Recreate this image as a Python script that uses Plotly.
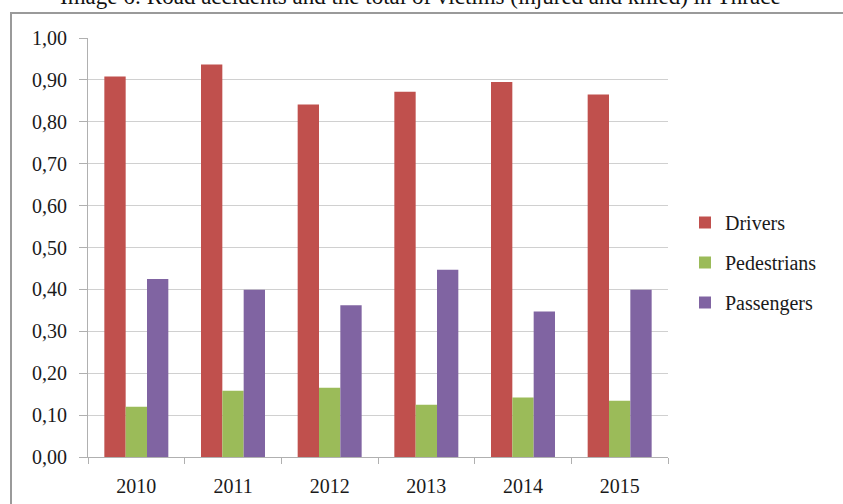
import plotly.graph_objects as go

years = ["2010", "2011", "2012", "2013", "2014", "2015"]
drivers = [0.908, 0.937, 0.841, 0.872, 0.895, 0.865]
pedestrians = [0.120, 0.158, 0.165, 0.125, 0.142, 0.134]
passengers = [0.425, 0.399, 0.362, 0.447, 0.347, 0.399]

series = [
    ("Drivers", drivers, "#C0504D"),
    ("Pedestrians", pedestrians, "#9BBB59"),
    ("Passengers", passengers, "#8064A2"),
]

FONT = "Liberation Serif, Times New Roman, serif"
TXT = "#1a1a1a"
W, H = 843, 504
L, R, T, B = 88, 175, 38, 47
PW, PH = W - L - R, H - T - B


def px_x(px):
    return (px - L) / PW


def px_y(py):
    return (H - B - py) / PH


fig = go.Figure()
for i, (name, vals, color) in enumerate(series):
    fig.add_trace(go.Bar(
        x=years, y=vals, name=name,
        marker=dict(color=color, line=dict(width=0)),
        legendgroup=f"g{i}",
    ))

fig.update_layout(
    width=W, height=H,
    margin=dict(l=L, r=R, t=T, b=B, pad=0, autoexpand=False),
    paper_bgcolor="white", plot_bgcolor="white",
    barmode="group", bargap=0.338, bargroupgap=0,
    font=dict(family=FONT, size=20, color=TXT),
    showlegend=True,
    legend=dict(
        x=px_x(685), y=px_y(203), xanchor="left", yanchor="top",
        traceorder="grouped", tracegroupgap=11,
        font=dict(family=FONT, size=20, color=TXT),
        bgcolor="rgba(0,0,0,0)",
    ),
    xaxis=dict(
        type="category", showline=True, linecolor="#b0b0b0", linewidth=1,
        ticks="outside", tickson="boundaries", ticklen=6, tickcolor="#b0b0b0",
        showgrid=False, ticklabelstandoff=11, automargin=False,
        tickfont=dict(family=FONT, size=20, color=TXT),
    ),
    yaxis=dict(
        range=[0, 1.0], dtick=0.1, tickformat=".2f",
        showline=True, linecolor="#b0b0b0", linewidth=1,
        ticks="outside", ticklen=8, tickcolor="#b0b0b0",
        showgrid=True, gridcolor="#d0d0d0", gridwidth=1,
        zeroline=False, ticklabelstandoff=8, automargin=False,
        tickfont=dict(family=FONT, size=20, color=TXT),
    ),
    separators=", ",
)

# chart frame (top and left edges visible)
fig.add_shape(type="rect", xref="paper", yref="paper",
              x0=px_x(11), x1=px_x(850), y0=px_y(530), y1=px_y(13),
              line=dict(color="#9a9a9a", width=2), fillcolor="rgba(0,0,0,0)",
              layer="below")

fig.add_annotation(
    text="Image 6: Road accidents and the total of victims (injured and killed) in Thrace",
    xref="paper", yref="paper", x=px_x(420), y=px_y(11),
    xanchor="center", yanchor="bottom", showarrow=False,
    font=dict(family=FONT, size=23, color="#111111"),
)

fig.write_html("out.html")
